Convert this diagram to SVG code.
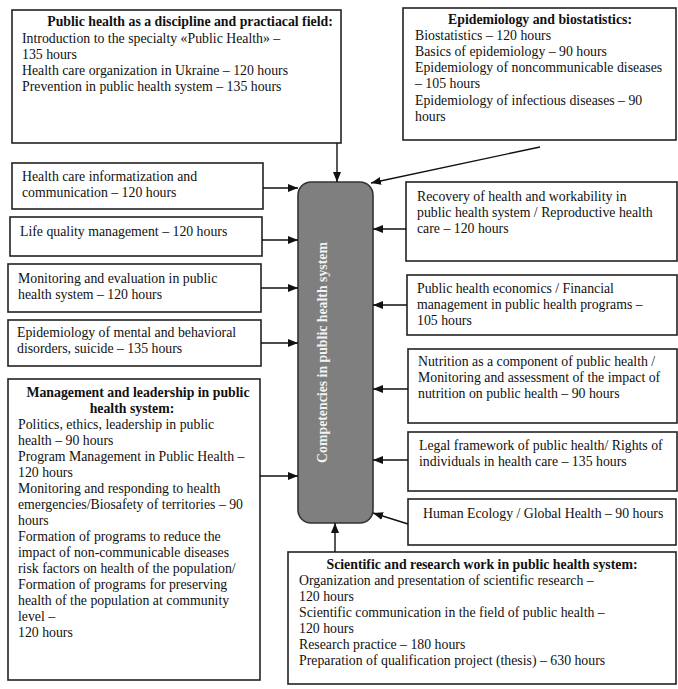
<svg xmlns="http://www.w3.org/2000/svg" width="678" height="689" viewBox="0 0 678 689">
<defs>
<style>
.box{fill:#fff;stroke:#222;stroke-width:1.6}
.t{font-family:"Liberation Serif","Times New Roman",serif;font-size:13.8px;fill:#111}
.b{font-weight:bold}
.c{text-anchor:middle}
.ln{stroke:#111;stroke-width:1.4;fill:none;marker-end:url(#ah)}
</style>
<marker id="ah" markerUnits="userSpaceOnUse" markerWidth="10" markerHeight="8" refX="10" refY="4" orient="auto">
<path d="M0,0 L10,4 L0,8 z" fill="#111"/>
</marker>
</defs>
<rect width="678" height="689" fill="#fff"/>

<g id="n-public-health">
<rect class="box" x="12" y="10" width="329" height="133"/>
<text class="t b c" x="190" y="26">Public health as a discipline and practiacal field:</text>
<text class="t" x="22" y="43">Introduction to the specialty «Public Health» –</text>
<text class="t" x="22" y="59">135 hours</text>
<text class="t" x="22" y="75">Health care organization in Ukraine – 120 hours</text>
<text class="t" x="22" y="91">Prevention in public health system – 135 hours</text>
</g>

<g id="n-epidemiology">
<rect class="box" x="403" y="8" width="273" height="132"/>
<text class="t b c" x="540" y="24">Epidemiology and biostatistics:</text>
<text class="t" x="415" y="40">Biostatistics – 120 hours</text>
<text class="t" x="415" y="56">Basics of epidemiology – 90 hours</text>
<text class="t" x="415" y="72">Epidemiology of noncommunicable diseases</text>
<text class="t" x="415" y="88">– 105 hours</text>
<text class="t" x="415" y="105">Epidemiology of infectious diseases – 90</text>
<text class="t" x="415" y="121">hours</text>
</g>

<g id="n-informatization">
<rect class="box" x="12" y="163" width="251" height="46"/>
<text class="t" x="22" y="181">Health care informatization and</text>
<text class="t" x="22" y="197">communication – 120 hours</text>
</g>

<g id="n-life-quality">
<rect class="box" x="10" y="217" width="252" height="39"/>
<text class="t" x="20" y="236">Life quality management – 120 hours</text>
</g>

<g id="n-monitoring">
<rect class="box" x="8" y="264" width="253" height="48"/>
<text class="t" x="18" y="283">Monitoring and evaluation in public</text>
<text class="t" x="18" y="299">health system – 120 hours</text>
</g>

<g id="n-mental">
<rect class="box" x="8" y="320" width="253" height="46"/>
<text class="t" x="17" y="337">Epidemiology of mental and behavioral</text>
<text class="t" x="17" y="353">disorders, suicide – 135 hours</text>
</g>

<g id="n-management">
<rect class="box" x="8" y="379" width="252" height="301"/>
<text class="t b c" x="138" y="397">Management and leadership in public</text>
<text class="t b c" x="132" y="413">health system:</text>
<text class="t" x="18" y="429">Politics, ethics, leadership in public</text>
<text class="t" x="18" y="445">health – 90 hours</text>
<text class="t" x="18" y="461">Program Management in Public Health –</text>
<text class="t" x="18" y="477">120 hours</text>
<text class="t" x="18" y="493">Monitoring and responding to health</text>
<text class="t" x="18" y="509">emergencies/Biosafety of territories – 90</text>
<text class="t" x="18" y="525">hours</text>
<text class="t" x="18" y="541">Formation of programs to reduce the</text>
<text class="t" x="18" y="557">impact of non-communicable diseases</text>
<text class="t" x="18" y="573">risk factors on health of the population/</text>
<text class="t" x="18" y="589">Formation of programs for preserving</text>
<text class="t" x="18" y="605">health of the population at community</text>
<text class="t" x="18" y="621">level –</text>
<text class="t" x="18" y="637">120 hours</text>
</g>

<g id="n-competencies">
<rect x="298" y="182" width="75" height="341" rx="13" ry="13" fill="#7f7f7f" stroke="#333" stroke-width="1.6"/>
<text class="t b c" transform="translate(327,352.5) rotate(-90)" x="0" y="0" style="fill:#f2f2f2">Competencies in public health system</text>
</g>

<g id="n-recovery">
<rect class="box" x="406" y="182" width="271" height="79"/>
<text class="t" x="417" y="201">Recovery of health and workability in</text>
<text class="t" x="417" y="217">public health system / Reproductive health</text>
<text class="t" x="417" y="233">care – 120 hours</text>
</g>

<g id="n-economics">
<rect class="box" x="407" y="275" width="270" height="60"/>
<text class="t" x="417" y="293">Public health economics / Financial</text>
<text class="t" x="417" y="309">management in public health programs –</text>
<text class="t" x="417" y="325">105 hours</text>
</g>

<g id="n-nutrition">
<rect class="box" x="408" y="349" width="269" height="74"/>
<text class="t" x="418" y="366">Nutrition as a component of public health /</text>
<text class="t" x="418" y="382">Monitoring and assessment of the impact of</text>
<text class="t" x="418" y="398">nutrition on public health – 90 hours</text>
</g>

<g id="n-legal">
<rect class="box" x="408" y="432" width="269" height="59"/>
<text class="t" x="419" y="450">Legal framework of public health/ Rights of</text>
<text class="t" x="419" y="466">individuals in health care – 135 hours</text>
</g>

<g id="n-ecology">
<rect class="box" x="408" y="499" width="268" height="46"/>
<text class="t" x="423" y="518">Human Ecology / Global Health – 90 hours</text>
</g>

<g id="n-scientific">
<rect class="box" x="288" y="552" width="388" height="132"/>
<text class="t b c" x="482" y="569">Scientific and research work in public health system:</text>
<text class="t" x="299" y="585">Organization and presentation of scientific research –</text>
<text class="t" x="299" y="601">120 hours</text>
<text class="t" x="299" y="617">Scientific communication in the field of public health –</text>
<text class="t" x="299" y="633">120 hours</text>
<text class="t" x="299" y="649">Research practice – 180 hours</text>
<text class="t" x="299" y="665">Preparation of qualification project (thesis) – 630 hours</text>
</g>

<g id="connectors">
<line class="ln" x1="337" y1="143" x2="337" y2="182"/>
<line class="ln" x1="540" y1="147" x2="371" y2="183"/>
<line class="ln" x1="263" y1="188" x2="298" y2="188"/>
<line class="ln" x1="262" y1="240" x2="298" y2="240"/>
<line class="ln" x1="261" y1="288" x2="298" y2="288"/>
<line class="ln" x1="261" y1="343" x2="298" y2="343"/>
<line class="ln" x1="260" y1="476" x2="298" y2="476"/>
<line class="ln" x1="406" y1="229" x2="373" y2="229"/>
<line class="ln" x1="407" y1="305" x2="373" y2="305"/>
<line class="ln" x1="408" y1="389" x2="373" y2="389"/>
<line class="ln" x1="408" y1="460" x2="373" y2="460"/>
<line class="ln" x1="408" y1="524" x2="373" y2="513"/>
<line class="ln" x1="335" y1="552" x2="335" y2="523"/>
</g>
</svg>
